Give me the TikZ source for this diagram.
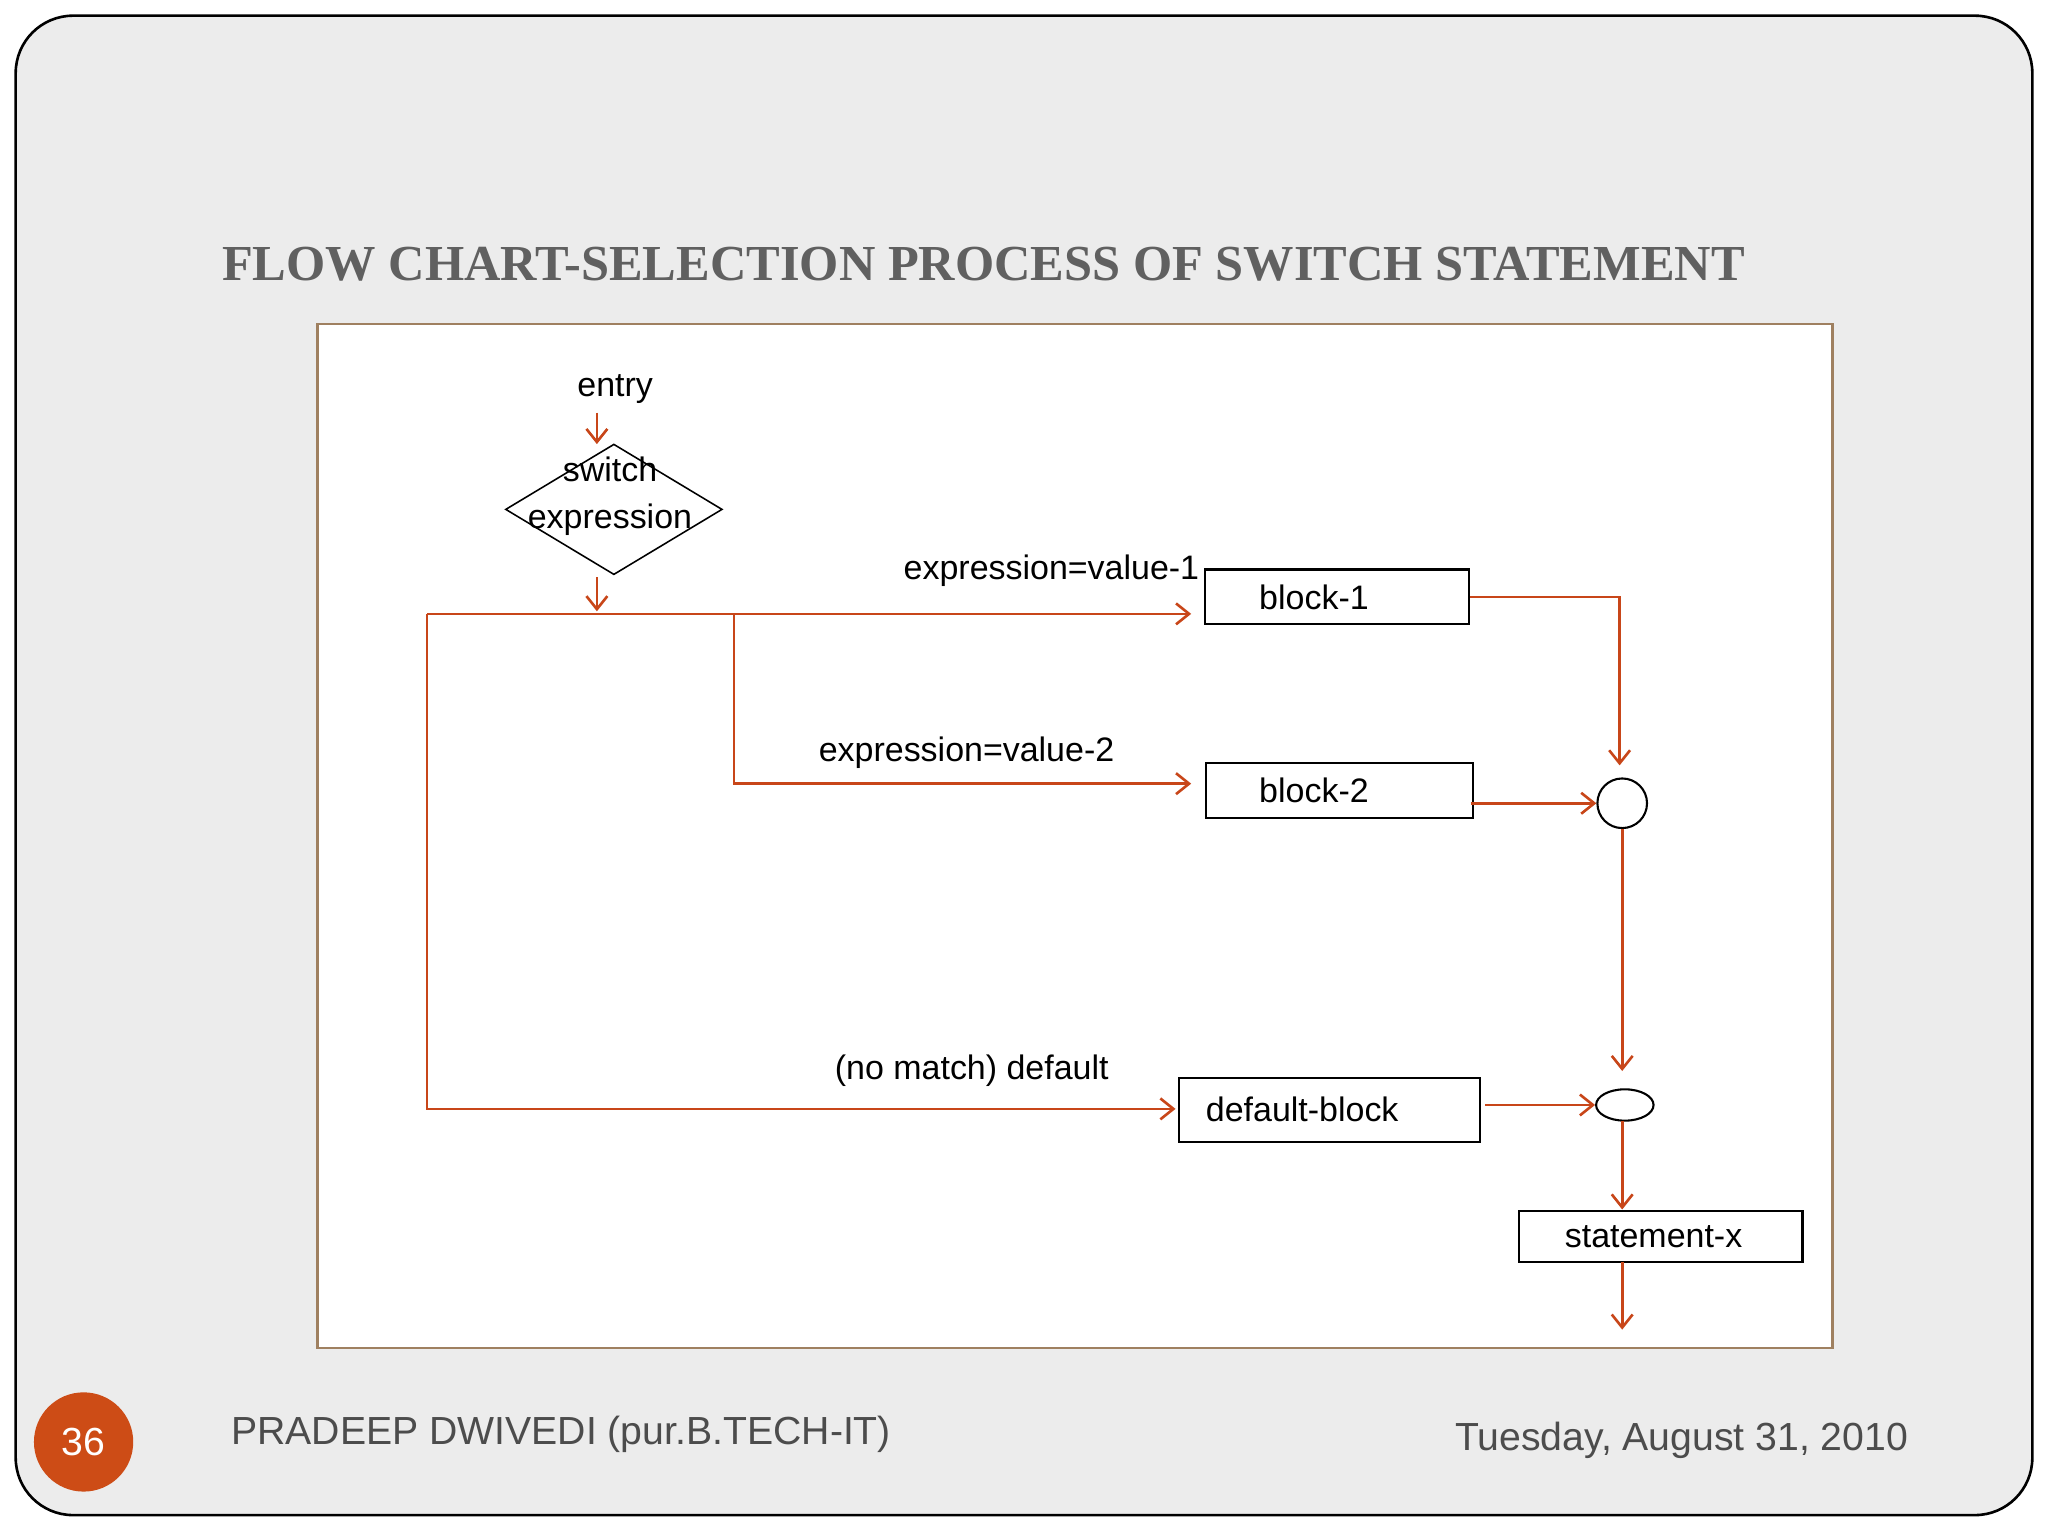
\documentclass[tikz,border=0pt]{standalone}
\usepackage{fontspec}
\setmainfont{Liberation Sans}
\newfontfamily\titlefont{Liberation Serif}
\usetikzlibrary{shapes.geometric,arrows.meta}
\definecolor{ln}{RGB}{200,70,25}
\definecolor{bgm}{RGB}{236,236,236}
\begin{document}
\begin{tikzpicture}[x=0.5pt,y=-0.5pt,
  con/.style={draw=ln,line width=1pt},
  arr/.style={con,-{Straight Barb[length=5pt,width=8pt]}},
  bx/.style={draw,line width=0.8pt,inner sep=0pt},
  lbl/.style={font=\fontsize{13}{15}\selectfont}]
\useasboundingbox (0,0) rectangle (1568,1176);
\fill[white] (0,0) rectangle (1568,1176);
\draw[fill=bgm,line width=1pt,rounded corners=22pt] (12,12) rectangle (1556,1160);
\node[font=\titlefont\bfseries\fontsize{19.3}{22}\selectfont,text=gray!75!black] (title) at (753,202) {FLOW CHART-SELECTION PROCESS OF SWITCH STATEMENT};
\draw[fill=white,draw=brown!50!gray,line width=1pt] (243,248) rectangle (1403,1032);
\node[lbl] (entry) at (471,298) {entry};
\coordinate (e1) at (457,316);
\node[draw,diamond,aspect=1.66,minimum width=83pt,minimum height=50pt,inner sep=0pt,line width=0.6pt] (sw) at (470,390) {};
\node[lbl,align=center,font=\fontsize{13}{18}\selectfont] (swt) at (467,380) {switch\\expression};
\coordinate (top) at (457,340);
\draw[arr] (e1) -- (top);
\coordinate (s1) at (457,442); \coordinate (s2) at (457,468);
\draw[arr] (s1) -- (s2);
\node[bx,minimum width=101pt,minimum height=21pt] (b1) at (1023.5,457) {};
\node[lbl] at (1006,457) {block-1};
\node[bx,minimum width=102.5pt,minimum height=21pt] (b2) at (1025.5,605) {};
\node[lbl] at (1006,605) {block-2};
\node[bx,minimum width=115pt,minimum height=24.5pt] (db) at (1018,849.5) {};
\node[lbl] at (997,849) {default-block};
\node[bx,minimum width=108.5pt,minimum height=19.5pt] (sx) at (1271.5,946.5) {};
\node[lbl] at (1266,947) {statement-x};
\node[lbl] at (805,437) {expression=value-1};
\node[lbl] at (740,576) {expression=value-2};
\node[lbl] at (744,820) {(no match) default};
\coordinate (L0) at (327,470); \coordinate (B0) at (562,470);
\draw[arr] (L0) -- (912,470);
\draw[arr] (B0) -- (562,600) -- (912,600);
\draw[arr] (L0) -- (327,849) -- (900,849);
\node[draw,circle,minimum size=19pt,inner sep=0pt,line width=0.8pt] (c1) at (1242,615) {};
\node[draw,ellipse,minimum width=22pt,minimum height=12pt,inner sep=0pt,line width=0.8pt] (c2) at (1244,846) {};
\draw[arr] (b1.east) -- (1240,457) -- (1240,586);
\draw[arr] (1126,615) -- (c1.west);
\draw[arr] (c1.south) -- (1242,820);
\draw[arr] (1137,846) -- (c2.west);
\draw[arr] (1242,858) -- (1242,926);
\coordinate (out) at (1242,1018);
\draw[arr] (1242,966) -- (out);
\node[circle,fill=ln!90!orange,minimum size=38pt,inner sep=0pt,text=white,font=\fontsize{15}{18}\selectfont] (pg) at (64,1104) {36};
\node[anchor=west,text=gray!60!black,font=\fontsize{15}{18}\selectfont] (auth) at (170,1098) {PRADEEP DWIVEDI (pur.B.TECH-IT)};
\node[anchor=east,text=gray!60!black,font=\fontsize{15}{18}\selectfont] (date) at (1468,1103) {Tuesday, August 31, 2010};
\end{tikzpicture}
\end{document}
